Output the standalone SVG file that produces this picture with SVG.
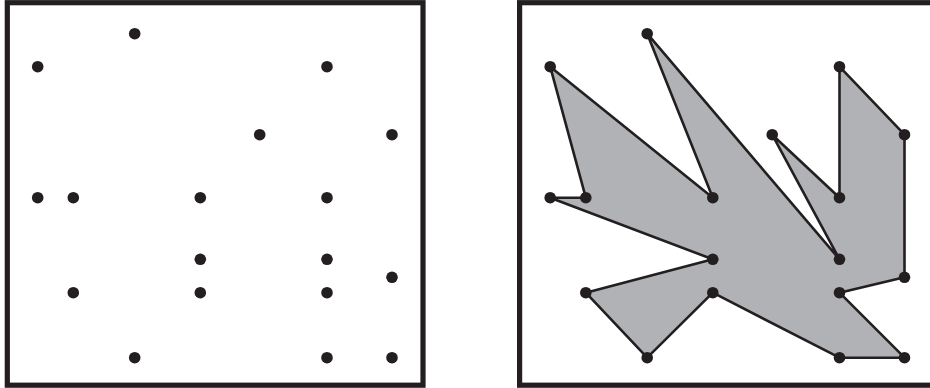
<svg xmlns="http://www.w3.org/2000/svg" width="930" height="388" viewBox="0 0 930 388">
<defs>
<style>
.frame{fill:#fff;stroke:#231f20;stroke-width:5.2}
.dot{fill:#231f20}
.shape{fill:#b1b2b5;stroke:#231f20;stroke-width:2.6;stroke-linejoin:round}
</style>
<circle id="d" r="5.8" class="dot"/>
</defs>
<rect width="930" height="388" fill="#fff"/>
<g id="left-panel">
<rect class="frame" x="7.3" y="2.7" width="415.7" height="382.5"/>
<g id="left-points">
<use href="#d" x="134.7" y="33.7"/>
<use href="#d" x="37.7" y="66.7"/>
<use href="#d" x="327" y="66.7"/>
<use href="#d" x="259.7" y="134.7"/>
<use href="#d" x="392" y="134.7"/>
<use href="#d" x="37.7" y="197.7"/>
<use href="#d" x="73.3" y="197.7"/>
<use href="#d" x="200.3" y="197.7"/>
<use href="#d" x="327" y="197.7"/>
<use href="#d" x="200.3" y="259.3"/>
<use href="#d" x="327" y="259.3"/>
<use href="#d" x="392" y="277.3"/>
<use href="#d" x="73.3" y="292.7"/>
<use href="#d" x="200.3" y="292.7"/>
<use href="#d" x="327" y="292.7"/>
<use href="#d" x="134.7" y="357.7"/>
<use href="#d" x="327" y="357.7"/>
<use href="#d" x="392" y="357.7"/>
</g>
</g>
<g id="right-panel">
<rect class="frame" x="519.6" y="2.7" width="415.7" height="382.5"/>
<g id="connectors">
<polygon class="shape" points="550.2,66.7 585.8,197.7 550.2,197.7 712.8,259.3 585.8,292.7 647.2,357.7 712.8,292.7 839.5,357.7 904.5,357.7 839.5,292.7 904.5,277.3 904.5,134.7 839.5,66.7 839.5,197.7 772.2,134.7 839.5,259.3 647.2,33.7 712.8,197.7"/>
</g>
<g id="right-points">
<use href="#d" x="647.2" y="33.7"/>
<use href="#d" x="550.2" y="66.7"/>
<use href="#d" x="839.5" y="66.7"/>
<use href="#d" x="772.2" y="134.7"/>
<use href="#d" x="904.5" y="134.7"/>
<use href="#d" x="550.2" y="197.7"/>
<use href="#d" x="585.8" y="197.7"/>
<use href="#d" x="712.8" y="197.7"/>
<use href="#d" x="839.5" y="197.7"/>
<use href="#d" x="712.8" y="259.3"/>
<use href="#d" x="839.5" y="259.3"/>
<use href="#d" x="904.5" y="277.3"/>
<use href="#d" x="585.8" y="292.7"/>
<use href="#d" x="712.8" y="292.7"/>
<use href="#d" x="839.5" y="292.7"/>
<use href="#d" x="647.2" y="357.7"/>
<use href="#d" x="839.5" y="357.7"/>
<use href="#d" x="904.5" y="357.7"/>
</g>
</g>
</svg>
